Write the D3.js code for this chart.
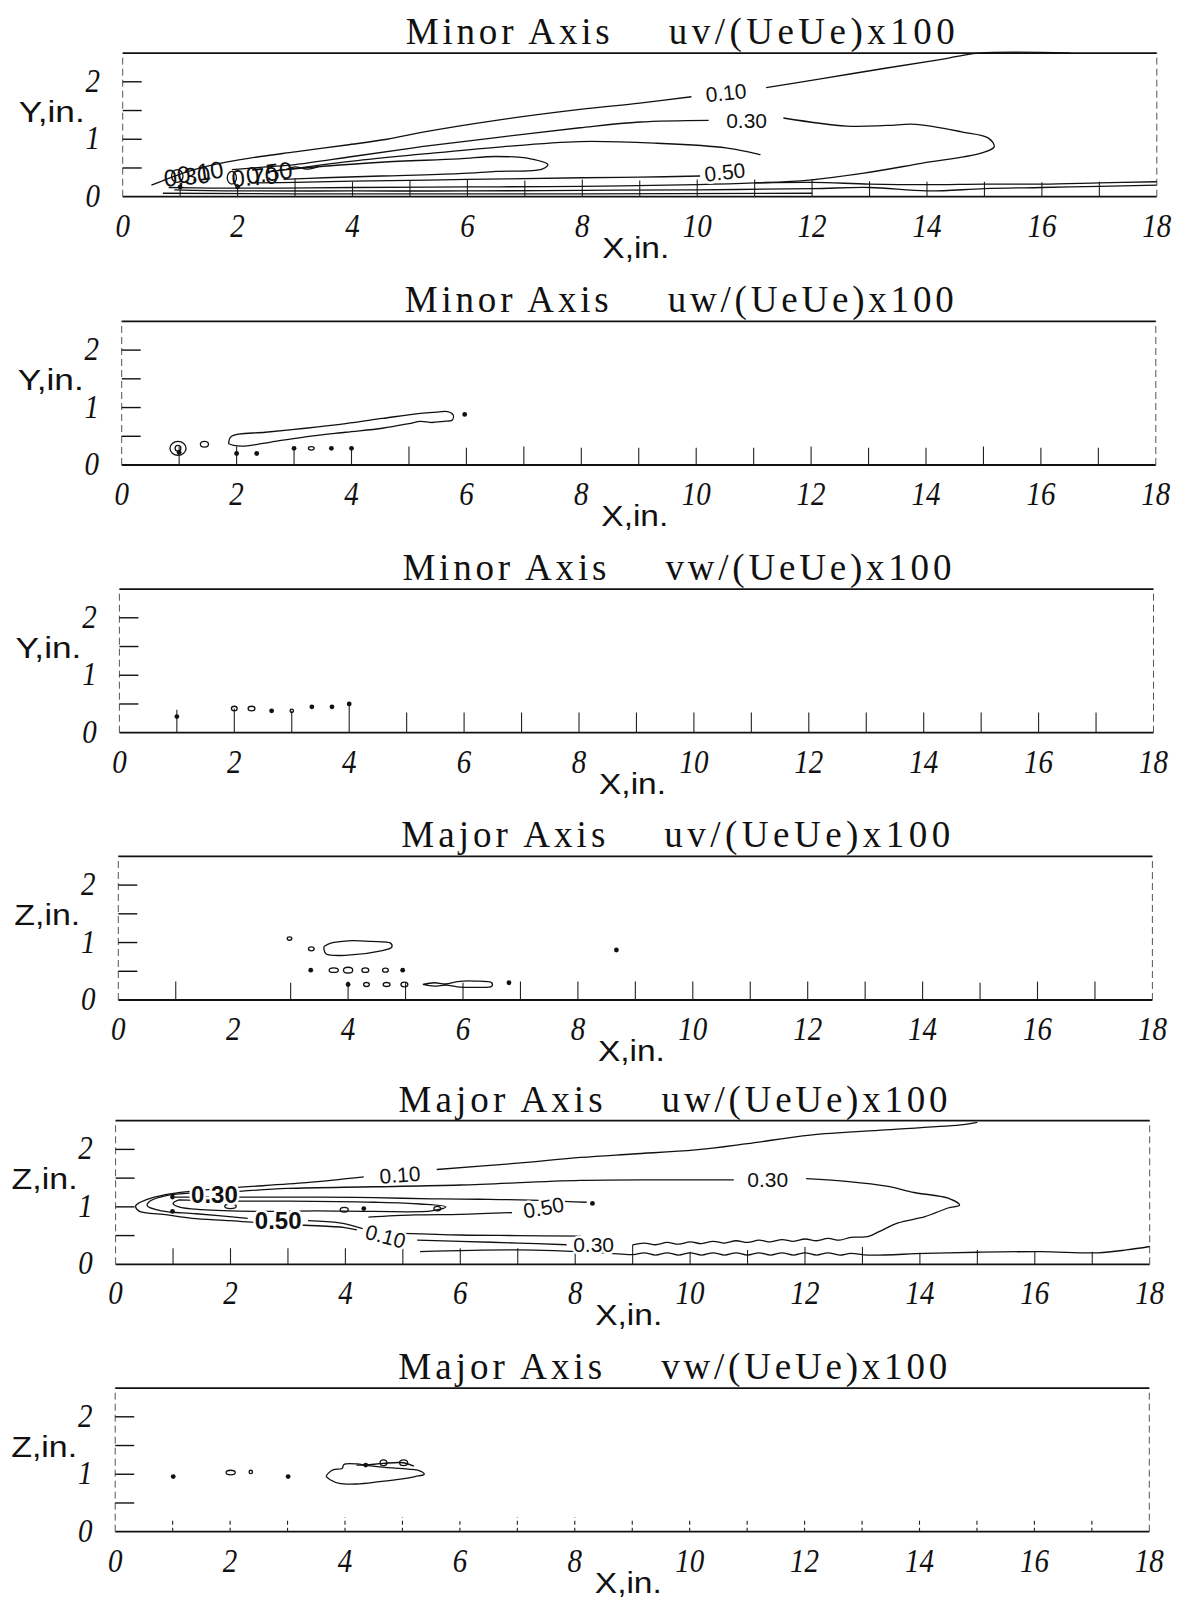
<!DOCTYPE html>
<html>
<head>
<meta charset="utf-8">
<script src="https://cdn.jsdelivr.net/npm/d3@7"></script>
<style>
  body { margin: 0; background: #fff; }
  text { fill: #111; }
</style>
</head>
<body>
<svg id="chart" width="1180" height="1598"></svg>
<script>
// axis values shared by all six panels
const xTickValues = [0, 2, 4, 6, 8, 10, 12, 14, 16, 18];
const yTickValues = [0, 1, 2];
const yMarkValues = [0.5, 1, 1.5, 2];
const stationX = [1, 2, 3, 4, 5, 6, 7, 8, 9, 10, 11, 12, 13, 14, 15, 16, 17];

const titleLeft = ["Minor Axis", "Minor Axis", "Minor Axis", "Major Axis", "Major Axis", "Major Axis"];
const titleRight = ["uv/(UeUe)x100", "uw/(UeUe)x100", "vw/(UeUe)x100", "uv/(UeUe)x100", "uw/(UeUe)x100", "vw/(UeUe)x100"];
const sideLabels = ["Y,in.", "Y,in.", "Y,in.", "Z,in.", "Z,in.", "Z,in."];

// label rows: [text, x, y, angle, style]  style 0 plain, 1 bold, 2 overprinted (no gap)

// ---- panel 1 : minor axis uv ----
const p1Stations = [0.2, 0.22, 0.32, 0.26, 0.28, 0.3, 0.28, 0.3, 0.28, 0.3, 0.3, 0.3, 0.27, 0.26, 0.26, 0.25, 0.26];
const p1Lines = [
  [[0.5, 0.2], [0.8, 0.32], [1.2, 0.46], [1.8, 0.6], [2.4, 0.7], [3.0, 0.78], [3.9, 0.9], [4.6, 1.0], [5.2, 1.12], [6.5, 1.33], [7.96, 1.52], [9.0, 1.63], [9.9, 1.74]],
  [[11.2, 1.9], [12.2, 2.06], [13.3, 2.24], [14.2, 2.38], [14.9, 2.5], [16.5, 2.5]],
  [[1.9, 0.47], [2.5, 0.52], [3.0, 0.56], [4.0, 0.7], [5.2, 0.87], [6.5, 1.03], [7.96, 1.2], [9.0, 1.3], [10.2, 1.33]],
  [[11.5, 1.37], [12.6, 1.23], [13.3, 1.24], [13.8, 1.26], [14.6, 1.13], [15.07, 1.02], [15.17, 0.87], [14.94, 0.76], [13.9, 0.58], [12.9, 0.41], [11.95, 0.29], [11.0, 0.24], [10.0, 0.21], [8.0, 0.18], [6.0, 0.17], [4.0, 0.16], [2.8, 0.15], [1.5, 0.15], [0.8, 0.16]],
  [[2.6, 0.44], [4.0, 0.62], [5.2, 0.74], [6.5, 0.86], [7.96, 0.96], [9.3, 0.93], [10.5, 0.85], [11.1, 0.73]],
  [[10.05, 0.36], [9.0, 0.34], [8.0, 0.33], [6.0, 0.3], [4.0, 0.27], [3.0, 0.25], [2.3, 0.24]],
  [[2.7, 0.46], [3.5, 0.53], [4.5, 0.6], [5.85, 0.66], [6.5, 0.7], [7.1, 0.66], [7.4, 0.56], [7.3, 0.48], [6.5, 0.44], [5.85, 0.4], [4.5, 0.36], [3.5, 0.33], [2.8, 0.3]],
  [[0.9, 0.12], [2.0, 0.1], [4.0, 0.1], [6.0, 0.1], [8.0, 0.11], [10.0, 0.12], [12.0, 0.14], [13.0, 0.16], [14.0, 0.1], [15.0, 0.14], [16.0, 0.16], [17.0, 0.18], [18.0, 0.2]],
  [[11.0, 0.24], [12.0, 0.25], [13.0, 0.22], [14.0, 0.21], [15.0, 0.22], [16.0, 0.22], [17.0, 0.24], [18.0, 0.26]],
  [[0.7, 0.06], [3.0, 0.05], [8.0, 0.05], [12.0, 0.06]],
  [[2.85, 0.47], [3.0, 0.52], [3.2, 0.48], [3.4, 0.52]]
];
const p1Labels = [
  ["0.10", 10.5, 1.81, -6, 0], ["0.30", 10.86, 1.33, 0, 0], ["0.50", 10.48, 0.43, -6, 0],
  ["0.10", 1.35, 0.43, -8, 2], ["0.30", 1.12, 0.36, -5, 2], ["0.50", 2.55, 0.42, -8, 2], ["0.70", 2.3, 0.35, -5, 2]
];
const p1Loops = [[0.95, 0.36, 0.1, 0.11], [1.9, 0.33, 0.08, 0.11]];
const p1Dots = [[1.0, 0.17], [2.0, 0.17]];

// ---- panel 2 : minor axis uw ----
const p2Stations = [0.32, 0.32, 0.32, 0.3, 0.32, 0.3, 0.32, 0.3, 0.3, 0.3, 0.3, 0.32, 0.3, 0.3, 0.32, 0.3, 0.3];
const p2Lines = [
  [[1.86, 0.37], [1.91, 0.5], [2.5, 0.57], [3.2, 0.64], [3.9, 0.72], [4.54, 0.81], [5.2, 0.9], [5.5, 0.92], [5.67, 0.93], [5.77, 0.87], [5.75, 0.78], [5.6, 0.76], [5.4, 0.74], [5.2, 0.76], [5.0, 0.72], [4.54, 0.64], [3.9, 0.57], [3.2, 0.49], [2.6, 0.4], [2.14, 0.33], [1.95, 0.34], [1.86, 0.37]]
];
const p2Labels = [];
const p2Loops = [[0.98, 0.29, 0.14, 0.12], [0.98, 0.29, 0.05, 0.05], [1.44, 0.36, 0.07, 0.05], [3.3, 0.29, 0.05, 0.03]];
const p2Dots = [[5.97, 0.88], [2.0, 0.2], [2.35, 0.2], [3.0, 0.29], [3.65, 0.29], [4.0, 0.29], [1.0, 0.22]];

// ---- panel 3 : minor axis vw ----
const p3Stations = [0.4, 0.42, 0.38, 0.5, 0.35, 0.35, 0.35, 0.35, 0.35, 0.35, 0.35, 0.35, 0.35, 0.35, 0.35, 0.35, 0.35];
const p3Lines = [];
const p3Labels = [];
const p3Loops = [[2.0, 0.42, 0.05, 0.04], [2.3, 0.42, 0.06, 0.04], [3.0, 0.38, 0.03, 0.03]];
const p3Dots = [[1.0, 0.28], [2.65, 0.38], [3.35, 0.45], [3.7, 0.45], [4.0, 0.5]];

// ---- panel 4 : major axis uv ----
const p4Stations = [0.32, 0, 0.3, 0.32, 0.3, 0.3, 0.32, 0.32, 0.32, 0.32, 0.32, 0.32, 0.32, 0.32, 0.3, 0.32, 0.32];
const p4Lines = [
  [[3.58, 0.93], [3.7, 0.99], [4.0, 1.03], [4.4, 1.02], [4.74, 0.99], [4.76, 0.92], [4.55, 0.85], [4.0, 0.78], [3.62, 0.8], [3.58, 0.88], [3.58, 0.93]],
  [[5.3, 0.27], [5.5, 0.3], [5.7, 0.28], [5.9, 0.32], [6.2, 0.33], [6.5, 0.3], [6.5, 0.24], [6.2, 0.22], [5.9, 0.23], [5.7, 0.26], [5.5, 0.24], [5.3, 0.27]]
];
const p4Labels = [];
const p4Loops = [[2.98, 1.07, 0.04, 0.03], [3.36, 0.89, 0.05, 0.035], [3.75, 0.52, 0.08, 0.04], [4.0, 0.52, 0.08, 0.05], [4.3, 0.52, 0.06, 0.04], [4.65, 0.52, 0.05, 0.035], [4.32, 0.27, 0.05, 0.035], [4.67, 0.27, 0.06, 0.035], [4.98, 0.27, 0.06, 0.04]];
const p4Dots = [[3.35, 0.52], [4.95, 0.52], [4.0, 0.27], [6.8, 0.3], [8.67, 0.87]];

// ---- panel 5 : major axis uw ----
const p5Stations = [0.28, 0.28, 0.28, 0.28, 0.28, 0.28, 0.28, 0.3, 0.34, 0.22, 0.25, 0.3, 0.3, 0.2, 0.25, 0.22, 0.22];
const p5Lines = [
  [[15.0, 2.47], [14.76, 2.43], [13.4, 2.34], [12.09, 2.25], [11.0, 2.1], [10.09, 1.99], [9.0, 1.92], [8.09, 1.86], [7.0, 1.76], [5.59, 1.65]],
  [[4.32, 1.52], [3.32, 1.42], [2.0, 1.33], [1.3, 1.27], [0.85, 1.21], [0.55, 1.13], [0.35, 1.02], [0.4, 0.93], [0.9, 0.86], [1.33, 0.8], [2.0, 0.76], [2.65, 0.71], [3.3, 0.68], [3.99, 0.64], [4.2, 0.6]],
  [[5.25, 0.42], [6.0, 0.4], [7.0, 0.37], [7.85, 0.34]],
  [[9.0, 0.34], [9.2, 0.37], [9.4, 0.34], [9.6, 0.38], [9.8, 0.35], [10.0, 0.39], [10.2, 0.36], [10.4, 0.4], [10.6, 0.37], [10.8, 0.41], [11.0, 0.38], [11.2, 0.42], [11.4, 0.39], [11.6, 0.43], [11.8, 0.4], [12.0, 0.44], [12.2, 0.41], [12.4, 0.45], [12.6, 0.42], [12.8, 0.47], [13.09, 0.48], [13.29, 0.57], [13.62, 0.72], [14.09, 0.83], [14.49, 0.98], [14.69, 1.03], [14.49, 1.15], [13.9, 1.25], [13.42, 1.36], [12.76, 1.44], [12.02, 1.49]],
  [[10.76, 1.47], [9.5, 1.47], [8.09, 1.46], [6.0, 1.38], [4.5, 1.35], [3.0, 1.32], [2.15, 1.27]],
  [[1.3, 1.24], [0.9, 1.2], [0.6, 1.1], [0.55, 1.02], [0.8, 0.93], [1.4, 0.88], [2.3, 0.8]],
  [[3.35, 0.76], [3.9, 0.72], [4.3, 0.62]],
  [[5.0, 0.54], [6.0, 0.51], [7.0, 0.5], [8.1, 0.49]],
  [[5.3, 0.22], [7.0, 0.25], [8.5, 0.2], [9.0, 0.17], [9.2, 0.2], [9.4, 0.16], [9.6, 0.2], [9.8, 0.16], [10.0, 0.2], [10.2, 0.16], [10.4, 0.2], [10.6, 0.16], [10.8, 0.2], [11.0, 0.16], [11.2, 0.2], [11.4, 0.16], [11.6, 0.2], [11.8, 0.16], [12.0, 0.2], [12.2, 0.16], [12.4, 0.2], [12.6, 0.16], [12.8, 0.19], [13.1, 0.16], [14.09, 0.19], [15.0, 0.21], [16.1, 0.22], [17.1, 0.2], [17.6, 0.25], [18.0, 0.31]],
  [[1.0, 1.17], [2.2, 1.17], [3.5, 1.17], [4.5, 1.16], [5.5, 1.14], [6.5, 1.13], [7.5, 1.11], [8.2, 1.08]],
  [[1.1, 1.12], [2.0, 1.1], [3.0, 1.1], [4.5, 1.08], [5.3, 1.05], [5.75, 1.0], [5.5, 0.93], [4.5, 0.92], [3.5, 0.93], [2.5, 0.92], [1.5, 0.95], [1.1, 1.0], [1.0, 1.06], [1.1, 1.12]],
  [[4.4, 0.82], [5.2, 0.86], [6.0, 0.87], [6.9, 0.9]]
];
const p5Labels = [
  ["0.10", 4.95, 1.56, -4, 0], ["0.10", 4.7, 0.49, 15, 0], ["0.30", 8.32, 0.34, 0, 0],
  ["0.30", 11.35, 1.47, 0, 0], ["0.50", 7.45, 0.99, -10, 0],
  ["0.30", 1.72, 1.22, 0, 1], ["0.50", 2.83, 0.76, 0, 1]
];
const p5Loops = [[2.0, 1.01, 0.1, 0.04], [3.98, 0.95, 0.07, 0.04], [5.6, 0.97, 0.06, 0.04]];
const p5Dots = [[0.99, 1.17], [0.99, 0.92], [4.32, 0.97], [8.3, 1.06]];

// ---- panel 6 : major axis vw ----
const p6Stations = [0.2, 0.22, 0.22, 0.25, 0.25, 0.18, 0.25, 0.25, 0.2, 0.2, 0.2, 0.2, 0.2, 0.2, 0.2, 0.2, 0.2];
const p6Lines = [
  [[3.67, 0.96], [3.75, 0.9], [3.9, 0.84], [4.2, 0.83], [4.6, 0.87], [5.0, 0.92], [5.22, 0.96], [5.38, 1.0], [5.3, 1.06], [5.1, 1.09], [4.7, 1.12], [4.4, 1.15], [4.21, 1.18], [3.98, 1.17], [3.95, 1.1], [3.8, 1.08], [3.71, 1.02], [3.67, 0.96]],
  [[4.2, 1.16], [4.36, 1.16], [4.67, 1.19], [5.02, 1.2], [5.2, 1.14]]
];
const p6Labels = [];
const p6Loops = [[2.01, 1.03, 0.08, 0.04], [2.36, 1.04, 0.03, 0.03], [4.67, 1.2, 0.06, 0.05], [5.02, 1.2, 0.07, 0.05]];
const p6Dots = [[1.01, 0.96], [3.01, 0.96], [4.36, 1.16]];

// layout
const UNIT = 57.45;
const panelLeft = [122.7, 121.7, 119.4, 118.3, 115.6, 115.2];
const panelBase = [196.7, 465, 732.7, 1000, 1264.3, 1531.7];
const stationDash = [null, null, null, null, null, "4,3"];

const panels = [
  { lines: p1Lines, labels: p1Labels, loops: p1Loops, dots: p1Dots, stations: p1Stations },
  { lines: p2Lines, labels: p2Labels, loops: p2Loops, dots: p2Dots, stations: p2Stations },
  { lines: p3Lines, labels: p3Labels, loops: p3Loops, dots: p3Dots, stations: p3Stations },
  { lines: p4Lines, labels: p4Labels, loops: p4Loops, dots: p4Dots, stations: p4Stations },
  { lines: p5Lines, labels: p5Labels, loops: p5Loops, dots: p5Dots, stations: p5Stations },
  { lines: p6Lines, labels: p6Labels, loops: p6Loops, dots: p6Dots, stations: p6Stations }
];

const svg = d3.select("#chart");
svg.append("rect").attr("width", 1180).attr("height", 1598).attr("fill", "#fff");

panels.forEach(function (p, i) {
  var left = panelLeft[i], base = panelBase[i];
  var x = d3.scaleLinear().domain([0, 18]).range([left, left + 18 * UNIT]);
  var y = d3.scaleLinear().domain([0, 2.5]).range([base, base - 2.5 * UNIT]);
  var g = svg.append("g");

  // frame: solid top and bottom, light dashed sides
  g.append("line").attr("x1", x(0)).attr("x2", x(18)).attr("y1", y(2.5)).attr("y2", y(2.5))
    .attr("stroke", "#111").attr("stroke-width", 1.8);
  g.append("line").attr("x1", x(0)).attr("x2", x(18)).attr("y1", y(0)).attr("y2", y(0))
    .attr("stroke", "#111").attr("stroke-width", 1.8);
  [0, 18].forEach(function (v) {
    g.append("line").attr("x1", x(v)).attr("x2", x(v)).attr("y1", y(0)).attr("y2", y(2.5))
      .attr("stroke", "#555").attr("stroke-width", 1).attr("stroke-dasharray", "7,4");
  });

  // inner y tick marks
  g.selectAll(".ymark").data(yMarkValues).join("line")
    .attr("x1", x(0)).attr("x2", x(0) + 19)
    .attr("y1", function (d) { return y(d); }).attr("y2", function (d) { return y(d); })
    .attr("stroke", "#111").attr("stroke-width", 1.4);

  // measuring stations
  g.selectAll(".station").data(p.stations).join("line")
    .attr("x1", function (d, j) { return x(stationX[j]); })
    .attr("x2", function (d, j) { return x(stationX[j]); })
    .attr("y1", y(0)).attr("y2", function (d) { return y(d); })
    .attr("stroke", "#222").attr("stroke-width", 1.1)
    .attr("stroke-dasharray", stationDash[i]);

  // contour lines
  var line = d3.line().x(function (d) { return x(d[0]); }).y(function (d) { return y(d[1]); })
    .curve(d3.curveCatmullRom);
  g.selectAll(".contour").data(p.lines).join("path")
    .attr("d", line).attr("fill", "none").attr("stroke", "#111").attr("stroke-width", 1.3);

  g.selectAll(".loop").data(p.loops).join("ellipse")
    .attr("cx", function (d) { return x(d[0]); }).attr("cy", function (d) { return y(d[1]); })
    .attr("rx", function (d) { return x(d[2]) - x(0); }).attr("ry", function (d) { return y(0) - y(d[3]); })
    .attr("fill", "none").attr("stroke", "#111").attr("stroke-width", 1.3);

  g.selectAll(".dot").data(p.dots).join("circle")
    .attr("cx", function (d) { return x(d[0]); }).attr("cy", function (d) { return y(d[1]); })
    .attr("r", 2.4).attr("fill", "#111");

  // contour labels, white halo breaks the line around them
  g.selectAll(".clabel").data(p.labels).join("text")
    .attr("transform", function (d) { return "translate(" + x(d[1]) + "," + y(d[2]) + ") rotate(" + d[3] + ")"; })
    .attr("text-anchor", "middle").attr("dy", "0.36em")
    .style("font-family", "'Liberation Sans', Arial, sans-serif")
    .style("font-size", function (d) { return d[4] === 0 ? "21px" : "24px"; })
    .style("font-weight", function (d) { return d[4] === 1 ? "bold" : "normal"; })
    .style("stroke", function (d) { return d[4] === 2 ? "none" : "#fff"; })
    .style("stroke-width", 5).style("paint-order", "stroke")
    .text(function (d) { return d[0]; });

  // tick labels
  g.selectAll(".xlab").data(xTickValues).join("text")
    .attr("transform", function (d) { return "translate(" + x(d) + "," + (y(0) + 40) + ") scale(1,1.15)"; })
    .attr("text-anchor", "middle")
    .style("font-family", "'Liberation Serif', 'Times New Roman', serif")
    .style("font-style", "italic").style("font-size", "29px")
    .text(function (d) { return d; });
  g.selectAll(".ylab").data(yTickValues).join("text")
    .attr("transform", function (d) { return "translate(" + (x(0) - 30) + "," + (y(d) + 10) + ") scale(1,1.15)"; })
    .attr("text-anchor", "middle")
    .style("font-family", "'Liberation Serif', 'Times New Roman', serif")
    .style("font-style", "italic").style("font-size", "29px")
    .text(function (d) { return d; });

  // axis titles
  g.append("text").attr("x", x(8) + 20).attr("y", y(0) + 61)
    .attr("textLength", 67).attr("lengthAdjust", "spacingAndGlyphs")
    .style("font-family", "'Liberation Sans', Arial, sans-serif").style("font-size", "30px")
    .text("X,in.");
  g.append("text").attr("x", x(0) - 104).attr("y", y(1.5) + 11)
    .attr("textLength", 66).attr("lengthAdjust", "spacingAndGlyphs")
    .style("font-family", "'Liberation Sans', Arial, sans-serif").style("font-size", "30px")
    .text(sideLabels[i]);

  // panel title
  g.append("text").attr("x", left + 283).attr("y", y(2.5) - 9)
    .attr("textLength", 204).attr("lengthAdjust", "spacing")
    .style("font-family", "'Liberation Serif', 'Times New Roman', serif").style("font-size", "37px")
    .text(titleLeft[i]);
  g.append("text").attr("x", left + 546).attr("y", y(2.5) - 9)
    .attr("textLength", 286).attr("lengthAdjust", "spacing")
    .style("font-family", "'Liberation Serif', 'Times New Roman', serif").style("font-size", "37px")
    .text(titleRight[i]);
});
</script>
</body>
</html>
